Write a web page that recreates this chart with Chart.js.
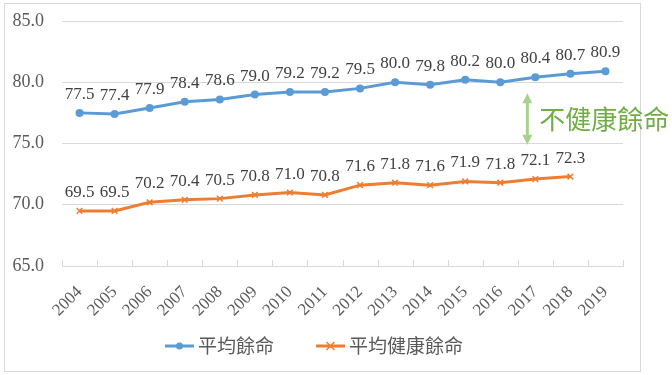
<!DOCTYPE html>
<html>
<head>
<meta charset="utf-8">
<script src="https://cdn.jsdelivr.net/npm/chart.js@4/dist/chart.umd.min.js"></script>
<style>
  html, body { margin: 0; padding: 0; background: #fff; }
  canvas { display: block; }
</style>
</head>
<body>
<canvas id="myChart" width="672" height="375"></canvas>
<script>
var years = ["2004", "2005", "2006", "2007", "2008", "2009", "2010", "2011", "2012", "2013", "2014", "2015", "2016", "2017", "2018", "2019"];
var lifeExp = [77.5, 77.4, 77.9, 78.4, 78.6, 79.0, 79.2, 79.2, 79.5, 80.0, 79.8, 80.2, 80.0, 80.4, 80.7, 80.9];
var healthyExp = [69.5, 69.5, 70.2, 70.4, 70.5, 70.8, 71.0, 70.8, 71.6, 71.8, 71.6, 71.9, 71.8, 72.1, 72.3, null];
var yMin = 65, yMax = 85, yStep = 5;
// gap arrow: category and value span
var gapYear = "2017";
var gapFrom = 79.1, gapTo = 74.9;
var gapText = "不健康餘命";

var serif = "'Liberation Serif', serif";
var cjk = "'Noto Sans CJK TC', sans-serif";

var frame = {
    id: "frame",
    beforeDraw: function (chart) {
        var c = chart.ctx;
        c.save();
        c.fillStyle = "#fff";
        c.fillRect(0, 0, chart.width, chart.height);
        c.strokeStyle = "#d9d9d9";
        c.lineWidth = 1;
        c.strokeRect(4.5, 3.5, 636, 368);
        c.restore();
    }
};

// small upward tick marks between categories
var xTicks = {
    id: "xTicks",
    afterDraw: function (chart) {
        var c = chart.ctx, x = chart.scales.x, area = chart.chartArea;
        var half = (x.getPixelForValue(1) - x.getPixelForValue(0)) / 2;
        c.save();
        c.strokeStyle = "#d9d9d9";
        c.lineWidth = 1;
        for (var i = 0; i <= years.length; i++) {
            var px = Math.round(x.getPixelForValue(0) - half + i * half * 2) + 0.5;
            c.beginPath();
            c.moveTo(px, area.bottom);
            c.lineTo(px, area.bottom - 6);
            c.stroke();
        }
        c.restore();
    }
};

var valueLabels = {
    id: "valueLabels",
    afterDatasetsDraw: function (chart) {
        var c = chart.ctx;
        c.save();
        c.font = "17px " + serif;
        c.fillStyle = "#404040";
        c.textAlign = "center";
        c.textBaseline = "alphabetic";
        chart.data.datasets.forEach(function (ds, i) {
            chart.getDatasetMeta(i).data.forEach(function (pt, j) {
                var v = ds.data[j];
                if (v == null) return;
                c.fillText(v.toFixed(1), pt.x, pt.y - 14);
            });
        });
        c.restore();
    }
};

var gapArrow = {
    id: "gapArrow",
    afterDraw: function (chart) {
        var c = chart.ctx, x = chart.scales.x, y = chart.scales.y;
        var px = x.getPixelForValue(years.indexOf(gapYear)) - 8;
        var y1 = y.getPixelForValue(gapFrom), y2 = y.getPixelForValue(gapTo);
        c.save();
        c.strokeStyle = "#a9d18e";
        c.fillStyle = "#a9d18e";
        c.lineWidth = 3;
        c.beginPath();
        c.moveTo(px, y1 + 8);
        c.lineTo(px, y2 - 8);
        c.stroke();
        c.beginPath();
        c.moveTo(px, y1);
        c.lineTo(px - 5, y1 + 10);
        c.lineTo(px + 5, y1 + 10);
        c.closePath();
        c.fill();
        c.beginPath();
        c.moveTo(px, y2);
        c.lineTo(px - 5, y2 - 10);
        c.lineTo(px + 5, y2 - 10);
        c.closePath();
        c.fill();
        c.font = "26px " + cjk;
        c.fillStyle = "#70ad47";
        c.textAlign = "left";
        c.textBaseline = "middle";
        c.fillText(gapText, px + 12, (y1 + y2) / 2);
        c.restore();
    }
};

var legendBox = {
    id: "legendBox",
    afterDraw: function (chart) {
        var c = chart.ctx;
        var items = [
            { x: 165, color: "#5b9bd5", dot: true, text: chart.data.datasets[0].label },
            { x: 316, color: "#ed7d31", dot: false, text: chart.data.datasets[1].label }
        ];
        var ly = 346;
        c.save();
        items.forEach(function (it) {
            c.strokeStyle = it.color;
            c.lineWidth = 3;
            c.beginPath();
            c.moveTo(it.x, ly);
            c.lineTo(it.x + 29, ly);
            c.stroke();
            var cx = it.x + 14.5;
            if (it.dot) {
                c.fillStyle = it.color;
                c.beginPath();
                c.arc(cx, ly, 3.5, 0, Math.PI * 2);
                c.fill();
            } else {
                c.lineWidth = 1.5;
                c.beginPath();
                c.moveTo(cx - 4, ly - 4); c.lineTo(cx + 4, ly + 4);
                c.moveTo(cx + 4, ly - 4); c.lineTo(cx - 4, ly + 4);
                c.stroke();
            }
            c.font = "19px " + cjk;
            c.fillStyle = "#595959";
            c.textAlign = "left";
            c.textBaseline = "middle";
            c.fillText(it.text, it.x + 33, ly);
        });
        c.restore();
    }
};

var ctx = document.getElementById("myChart").getContext("2d");
var myLineChart = new Chart(ctx, {
    type: "line",
    data: {
        labels: years,
        datasets: [
            {
                label: "平均餘命",
                data: lifeExp,
                borderColor: "#5b9bd5",
                backgroundColor: "#5b9bd5",
                borderWidth: 3,
                pointStyle: "circle",
                pointRadius: 4,
                pointBorderWidth: 0,
                tension: 0
            },
            {
                label: "平均健康餘命",
                data: healthyExp,
                borderColor: "#ed7d31",
                backgroundColor: "#ed7d31",
                borderWidth: 3,
                pointStyle: "crossRot",
                pointRadius: 4,
                pointBorderWidth: 1.5,
                tension: 0
            }
        ]
    },
    options: {
        responsive: false,
        animation: false,
        layout: { padding: { top: 21, right: 49, left: 0, bottom: 0 } },
        plugins: {
            legend: { display: false },
            tooltip: { enabled: false }
        },
        scales: {
            x: {
                offset: true,
                grid: { display: false },
                border: { color: "#d9d9d9", width: 1 },
                ticks: {
                    minRotation: 45,
                    maxRotation: 45,
                    color: "#595959",
                    padding: 8,
                    font: { family: serif, size: 17 }
                },
                afterFit: function (s) { s.height = 109; }
            },
            y: {
                min: yMin,
                max: yMax,
                border: { display: false },
                grid: { color: "#d9d9d9", drawTicks: true, tickLength: 18, tickColor: "transparent" },
                ticks: {
                    stepSize: yStep,
                    color: "#595959",
                    padding: 0,
                    font: { family: serif, size: 18 },
                    callback: function (v) { return v.toFixed(1); }
                },
                afterFit: function (s) { s.width = 62; }
            }
        }
    },
    plugins: [frame, xTicks, valueLabels, gapArrow, legendBox]
});
</script>
</body>
</html>
